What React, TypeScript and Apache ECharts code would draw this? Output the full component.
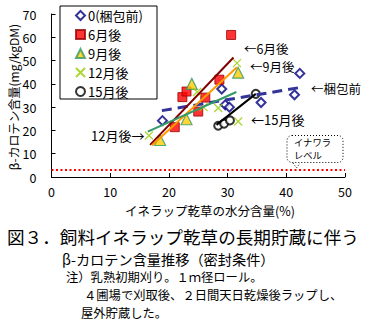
import React, { useEffect, useRef } from "react";
import * as echarts from "echarts";

// ---- data ----
const seriesNames = ["0(梱包前)", "6月後", "9月後", "12月後", "15月後"];
const before = [[18.9, 24.2], [29.0, 37.8], [29.6, 31.0], [30.3, 30.0], [35.7, 32.0], [41.4, 35.3], [42.3, 44.5]];
const month6 = [[21.0, 21.4], [22.3, 34.3], [23.0, 36.7], [25.0, 28.1], [26.2, 34.1], [28.6, 41.8], [30.6, 61.0]];
const month9 = [[18.5, 15.9], [23.0, 24.8], [23.9, 40.0], [31.8, 44.8]];
const month12 = [[16.6, 17.8], [24.8, 36.5], [25.9, 30.0], [28.4, 29.6], [31.8, 23.8], [31.6, 48.9]];
const month15 = [[28.4, 22.0], [29.4, 22.9], [30.4, 24.3], [34.8, 35.7]];

const trendBefore = [[18.8, 28.5], [42.3, 38.4]];
const trend6 = [[16.8, 13.8], [31.0, 51.3]];
const trend9 = [[17.1, 13.5], [31.6, 47.1]];
const trend12 = [[16.4, 19.5], [31.5, 36.5]];
const trend15 = [[28.1, 22.4], [34.8, 35.7]];
const inawaraLevel = [[0, 3], [50, 3]];

const xTicks = { min: 0, max: 50, interval: 10 };
const yTicks = { min: 0, max: 70, interval: 10 };

const captionTitle = "図３．飼料イネラップ乾草の長期貯蔵に伴う";
const captionSub = "β-カロテン含量推移（密封条件）";
const captionNote1 = "注）乳熟初期刈り。１ｍ径ロール。";
const captionNote2 = "４圃場で刈取後、２日間天日乾燥後ラップし、";
const captionNote3 = "屋外貯蔵した。";

const FONT = "'Noto Sans CJK JP', sans-serif";

export default function App() {
  const ref = useRef<HTMLDivElement>(null);
  useEffect(() => {
    if (!ref.current) return;
    const chart = echarts.init(ref.current, undefined, { renderer: "svg" });
    const axisCommon = {
      type: "value",
      axisLine: { show: true, lineStyle: { color: "#000", width: 1 } },
      axisTick: { show: true, inside: true, length: 4, lineStyle: { color: "#000" } },
      splitLine: { show: false },
      axisLabel: { color: "#000", fontSize: 12.5, fontFamily: FONT },
    };
    const txt = (x: number, y: number, text: string, size = 13, extra: any = {}) => ({
      type: "text",
      x,
      y,
      silent: true,
      style: { text, fontSize: size, lineHeight: size, fontFamily: FONT, fill: "#000", verticalAlign: "middle", ...extra },
    });
    const option: any = {
      animation: false,
      textStyle: { fontFamily: FONT },
      grid: { left: 51.5, right: 21, top: 14, bottom: 144, containLabel: false },
      xAxis: { ...axisCommon, ...xTicks, axisLabel: { ...axisCommon.axisLabel, margin: 8 } },
      yAxis: { ...axisCommon, ...yTicks, axisLabel: { ...axisCommon.axisLabel, margin: 15 } },
      legend: {
        left: 60,
        top: 6,
        orient: "vertical",
        borderColor: "#000",
        borderWidth: 1,
        borderRadius: 0,
        padding: [3, 14, 1, 15],
        itemWidth: 9,
        itemHeight: 9,
        itemGap: 6,
        textStyle: { fontSize: 13, color: "#000", fontFamily: FONT, padding: [0, 0, 0, -2] },
        data: seriesNames,
      },
      series: [
        {
          name: seriesNames[0], type: "scatter", data: before, symbol: "emptyDiamond", symbolSize: 9,
          itemStyle: { color: "#000080", borderColor: "#000080", borderWidth: 1 },
        },
        {
          name: seriesNames[1], type: "scatter", data: month6, symbol: "rect", symbolSize: 9,
          itemStyle: { color: "#FF0000", borderColor: "#990000", borderWidth: 1 },
        },
        {
          name: seriesNames[2], type: "scatter", data: month9, symbol: "triangle", symbolSize: 11,
          itemStyle: { color: "#FFCC00", borderColor: "#339966", borderWidth: 1.2 },
        },
        {
          name: seriesNames[3], type: "scatter", data: month12, symbol: "path://M0,0L10,10M10,0L0,10", symbolSize: 8,
          itemStyle: { color: "#99CC00", borderColor: "#99CC00", borderWidth: 1.3 },
        },
        {
          name: seriesNames[4], type: "scatter", data: month15, symbol: "emptyCircle", symbolSize: 8,
          itemStyle: { color: "#000", borderColor: "#000", borderWidth: 1.2 },
        },
        {
          type: "line", data: inawaraLevel, symbol: "none", silent: true,
          lineStyle: { color: "#FF0000", width: 2, type: [2, 2.5] },
        },
        {
          type: "line", data: trendBefore, symbol: "none", silent: true,
          lineStyle: { color: "#333399", width: 3, type: [10, 6] },
        },
        { type: "line", data: trend6, symbol: "none", silent: true, lineStyle: { color: "#800000", width: 2 } },
        { type: "line", data: trend9, symbol: "none", silent: true, lineStyle: { color: "#FF9900", width: 2 } },
        { type: "line", data: trend12, symbol: "none", silent: true, lineStyle: { color: "#339966", width: 2 } },
        { type: "line", data: trend15, symbol: "none", silent: true, lineStyle: { color: "#000000", width: 2 } },
      ],
      graphic: [
        // axis names
        {
          type: "text", x: 13, y: 97, rotation: Math.PI / 2, silent: true,
          style: { text: "β-カロテン含量(mg/kgDM)", fontSize: 12, lineHeight: 12, fontFamily: FONT, fill: "#000", align: "center", verticalAlign: "middle" },
        },
        txt(125, 210, "イネラップ乾草の水分含量(%)", 12.5),
        // annotations
        txt(244, 48.6, "←6月後", 12.5),
        txt(250, 66.8, "←9月後", 12.5),
        txt(311, 88, "←梱包前", 12.5),
        txt(251, 119, "←15月後", 13),
        txt(91, 135, "12月後→", 13),
        // inawara box
        {
          type: "rect", silent: true,
          shape: { x: 287, y: 135.5, width: 56, height: 27, r: 5 },
          style: { fill: "#fff", stroke: "#000", lineWidth: 1, lineDash: [1, 2] },
        },
        {
          type: "polyline", silent: true,
          shape: { points: [[293, 163], [296.5, 168], [300, 163]] },
          style: { fill: "none", stroke: "#000", lineWidth: 1, lineDash: [1, 2] },
        },
        txt(294, 141.6, "イナワラ", 9.3),
        txt(294, 155.2, "レベル", 9.3),
        // caption
        txt(7, 236, captionTitle, 17.6),
        txt(62, 258.5, captionSub, 14.2),
        txt(66, 277.3, captionNote1, 12.3),
        txt(84, 295, captionNote2, 12.3),
        txt(81, 312.7, captionNote3, 12.3),
      ],
    };
    chart.setOption(option);
    return () => chart.dispose();
  }, []);
  return (
    <div
      ref={ref}
      style={{ position: "absolute", left: 0, top: 0, width: 366, height: 321, background: "#fff" }}
    />
  );
}
